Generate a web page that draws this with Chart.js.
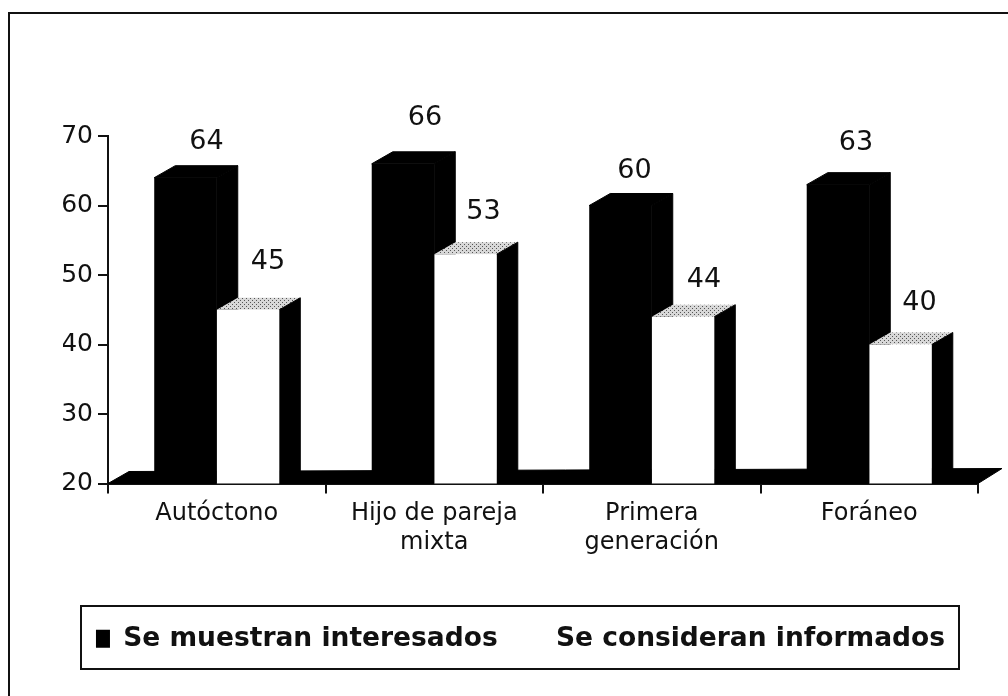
<!DOCTYPE html>
<html>
<head>
<meta charset="utf-8">
<script src="https://cdn.jsdelivr.net/npm/chart.js@4"></script>
<style>
  html, body { margin: 0; background: #fff; }
  #frame { position: absolute; left: 8px; top: 12px; width: 1000px; height: 684px; box-sizing: border-box; border-left: 2px solid #111; border-top: 2px solid #111; }
  canvas { position: absolute; left: 0; top: 0; }
</style>
</head>
<body>
<div id="frame"></div>
<canvas id="myChart" width="1008" height="696"></canvas>
<script>
const categories = ['Autóctono', ['Hijo de pareja', 'mixta'], ['Primera', 'generación'], 'Foráneo'];
const interesados = [64, 66, 60, 63];
const informados = [45, 53, 44, 40];
const seriesNames = ['Se muestran interesados', 'Se consideran informados'];
const yTicks = [20, 30, 40, 50, 60, 70];

// 3D look of the old chart: how far the bars go back, in pixels
const depthX = 21;
const depthY = 12;
// value labels were placed by hand in the original, so each one has its own nudge
const labelNudge = [
  [[21, -36], [20, -48]],
  [[22, -46], [18, -42]],
  [[14, -35], [21, -37]],
  [[18, -42], [19, -42]]
];

function speckle(ctx) {
  const tile = document.createElement('canvas');
  tile.width = 4;
  tile.height = 4;
  const t = tile.getContext('2d');
  t.fillStyle = '#d8d8d8';
  t.fillRect(0, 0, 4, 4);
  t.fillStyle = '#555';
  t.fillRect(0, 0, 1, 1);
  t.fillRect(2, 2, 1, 1);
  return ctx.createPattern(tile, 'repeat');
}

function poly(ctx, pts, fill) {
  ctx.fillStyle = fill;
  ctx.beginPath();
  pts.forEach((p, i) => i ? ctx.lineTo(p[0], p[1]) : ctx.moveTo(p[0], p[1]));
  ctx.closePath();
  ctx.fill();
  if (fill === '#000') {
    // hides the seams between faces
    ctx.strokeStyle = '#000';
    ctx.lineWidth = 1;
    ctx.stroke();
  }
}

const bars3d = {
  id: 'bars3d',
  beforeDatasetsDraw(chart) {
    const { ctx, chartArea: a } = chart;
    const grey = speckle(ctx);
    ctx.save();
    // floor
    poly(ctx, [[a.left, a.bottom], [a.left + depthX, a.bottom - depthY], [a.right + depthX + 3, a.bottom - depthY - 3], [a.right, a.bottom]], '#000');
    chart.data.datasets.forEach((ds, d) => {
      chart.getDatasetMeta(d).data.forEach(bar => {
        const l = bar.x - bar.width / 2;
        const r = bar.x + bar.width / 2;
        poly(ctx, [[l, bar.y], [l + depthX, bar.y - depthY], [r + depthX, bar.y - depthY], [r, bar.y]], d === 0 ? '#000' : grey);
        poly(ctx, [[r, bar.y], [r + depthX, bar.y - depthY], [r + depthX, a.bottom - depthY], [r, a.bottom]], '#000');
      });
    });
    ctx.restore();
  },
  afterDatasetsDraw(chart) {
    const { ctx } = chart;
    ctx.save();
    ctx.fillStyle = '#111';
    ctx.font = '27px "DejaVu Sans"';
    ctx.textAlign = 'center';
    ctx.textBaseline = 'middle';
    chart.data.datasets.forEach((ds, d) => {
      chart.getDatasetMeta(d).data.forEach((bar, i) => {
        const n = labelNudge[i][d];
        ctx.fillText(ds.data[i], bar.x + n[0], bar.y + n[1]);
      });
    });
    ctx.restore();
  },
  afterDraw(chart) {
    // box around the legend
    const { ctx } = chart;
    ctx.save();
    ctx.strokeStyle = '#111';
    ctx.lineWidth = 2;
    ctx.strokeRect(81, 606, 878, 63);
    ctx.restore();
  }
};

new Chart(document.getElementById('myChart').getContext('2d'), {
  type: 'bar',
  data: {
    labels: categories,
    datasets: [
      { label: seriesNames[0], data: interesados, backgroundColor: '#000' },
      { label: seriesNames[1], data: informados, backgroundColor: '#fff' }
    ]
  },
  options: {
    responsive: false,
    animation: false,
    categoryPercentage: 0.575,
    barPercentage: 1,
    layout: { padding: { top: 136, left: 63, right: 30, bottom: 34 } },
    plugins: {
      legend: {
        position: 'bottom',
        labels: {
          color: '#111',
          font: { family: '"DejaVu Sans"', size: 26.5, weight: 'bold' },
          boxWidth: 14,
          boxHeight: 18,
          padding: 31
        }
      },
      tooltip: { enabled: false }
    },
    scales: {
      x: {
        afterFit(scale) { scale.height = 111; },
        border: { color: '#111', width: 2 },
        grid: { drawOnChartArea: false, color: '#111', tickLength: 10, lineWidth: 2 },
        ticks: { color: '#111', font: { family: '"DejaVu Sans"', size: 24 }, padding: 6, maxRotation: 0, autoSkip: false }
      },
      y: {
        min: 20,
        max: 70,
        afterBuildTicks(scale) { scale.ticks = yTicks.map(v => ({ value: v })); },
        afterFit(scale) { scale.width = 45; },
        border: { color: '#111', width: 2 },
        grid: { drawOnChartArea: false, color: '#111', tickLength: 10, lineWidth: 2 },
        ticks: { color: '#111', font: { family: '"DejaVu Sans"', size: 25 }, padding: 5 }
      }
    }
  },
  plugins: [bars3d]
});
</script>
</body>
</html>
